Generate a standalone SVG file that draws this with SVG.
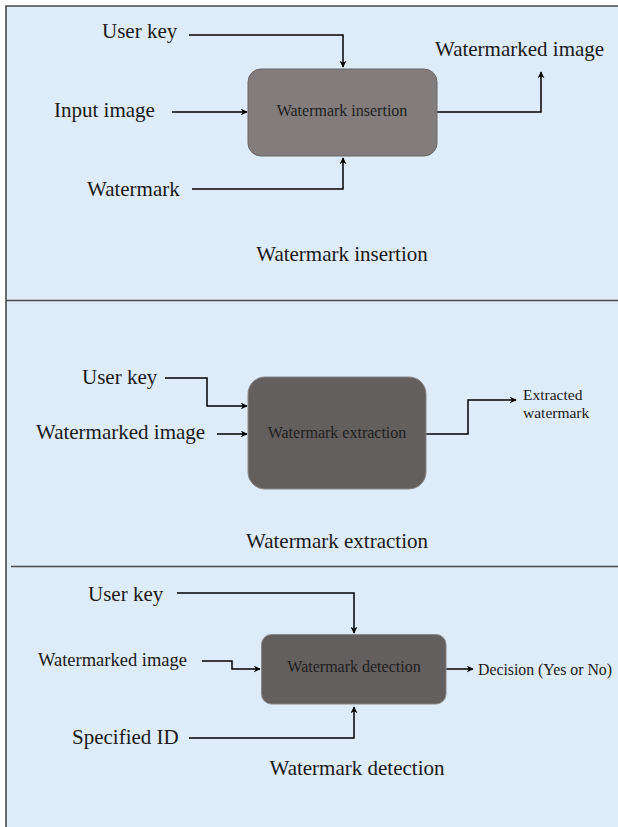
<svg xmlns="http://www.w3.org/2000/svg" width="618" height="827" viewBox="0 0 618 827">
<style>
.bg{fill:#deebf8}
.frame{stroke:#4a4a4a;stroke-width:1.6;fill:none}
text{font-family:'Liberation Serif','Times New Roman',Tinos,'DejaVu Serif',serif;fill:#1a1a1a}
.lbl{font-size:21px}
.sm{font-size:15.5px}
.btxt{font-size:16px;fill:#1e1e1e;text-anchor:middle}
.box1{fill:#827d7c;stroke:#6a6666;stroke-width:1}
.box2{fill:#635f5e;stroke:#8a8787;stroke-width:1}
.con{stroke:#000;stroke-width:1.5;fill:none;marker-end:url(#arr)}
</style>
<defs>
<marker id="arr" viewBox="0 0 10 10" refX="9" refY="5" markerWidth="7" markerHeight="7" markerUnits="userSpaceOnUse" orient="auto">
<path d="M0,0 L10,5 L0,10 L3,5 z" fill="#000"/>
</marker>
</defs>
<rect class="bg" x="6" y="6" width="612" height="821"/>
<path class="frame" d="M6,827 V6 H618 M6,300.5 H618 M11,566.5 H618"/>

<g id="connectors">
<path class="con" d="M189,35 H343 V67"/>
<path class="con" d="M172,112 H247"/>
<path class="con" d="M192,189 H343 V158"/>
<path class="con" d="M437,112 H541 V72"/>
<path class="con" d="M165,378 H207 V406 H247"/>
<path class="con" d="M217,434 H247"/>
<path class="con" d="M426,434 H468 V400 H516"/>
<path class="con" d="M177,593 H354 V633"/>
<path class="con" d="M202,661 H232 V669 H260"/>
<path class="con" d="M189,738 H354 V707"/>
<path class="con" d="M446,669 H473"/>
</g>

<g id="sec1-labels">
<text class="lbl" x="102" y="38">User key</text>
<text class="lbl" x="54" y="117">Input image</text>
<text class="lbl" x="87" y="196">Watermark</text>
<text class="lbl" x="435" y="56">Watermarked image</text>
<text class="lbl" x="342" y="261" text-anchor="middle">Watermark insertion</text>
</g>
<g id="node-insertion">
<rect class="box1" x="248" y="69" width="189" height="87" rx="13"/>
<text class="btxt" x="342" y="116">Watermark insertion</text>
</g>

<g id="sec2-labels">
<text class="lbl" x="82" y="384">User key</text>
<text class="lbl" x="36" y="439">Watermarked image</text>
<text class="sm" x="523" y="400">Extracted</text>
<text class="sm" x="523" y="418">watermark</text>
<text class="lbl" x="337" y="548" text-anchor="middle">Watermark extraction</text>
</g>
<g id="node-extraction">
<rect class="box2" x="248" y="377" width="178" height="112" rx="17"/>
<text class="btxt" x="337" y="438">Watermark extraction</text>
</g>

<g id="sec3-labels">
<text class="lbl" x="88" y="601">User key</text>
<text class="lbl" x="38" y="666" style="font-size:18.5px">Watermarked image</text>
<text class="sm" x="478" y="675" style="font-size:15.8px">Decision (Yes or No)</text>
<text class="lbl" x="72" y="744">Specified ID</text>
<text class="lbl" x="357" y="775" text-anchor="middle">Watermark detection</text>
</g>
<g id="node-detection">
<rect class="box2" x="261.5" y="634.5" width="184.5" height="69.5" rx="10"/>
<text class="btxt" x="354" y="672">Watermark detection</text>
</g>
</svg>
